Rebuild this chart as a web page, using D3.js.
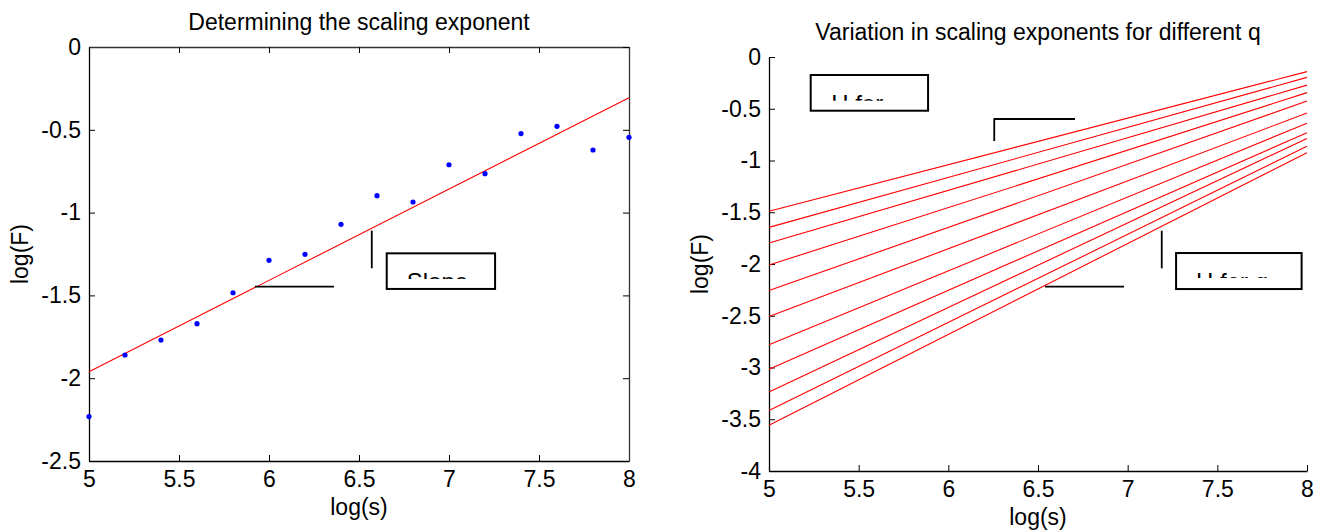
<!DOCTYPE html>
<html><head><meta charset="utf-8">
<script src="https://cdn.jsdelivr.net/npm/d3@7"></script>
<style>
body{margin:0;background:#fff;}
text{font-family:"Liberation Sans",Arial,sans-serif;fill:#000;}
</style></head>
<body><svg id="c" width="1325" height="531"></svg>
<script>
// ---- data ----
const logS = [5.0,5.2,5.4,5.6,5.8,6.0,6.2,6.4,6.6,6.8,7.0,7.2,7.4,7.6,7.8,8.0];
const logF = [-2.232,-1.86,-1.77,-1.671,-1.484,-1.288,-1.252,-1.071,-0.898,-0.936,-0.711,-0.765,-0.523,-0.479,-0.622,-0.545];
const fitX = [5, 8];
const fitY = [-1.961, -0.306];
const qStart = [-1.49,-1.646,-1.797,-2.01,-2.256,-2.508,-2.78,-3.016,-3.236,-3.416,-3.557];
const qEnd   = [-0.141,-0.197,-0.272,-0.344,-0.426,-0.541,-0.639,-0.731,-0.787,-0.862,-0.925];
const xTicks = [5,5.5,6,6.5,7,7.5,8];
const yTicksL = [0,-0.5,-1,-1.5,-2,-2.5];
const yTicksR = [0,-0.5,-1,-1.5,-2,-2.5,-3,-3.5,-4];
const titleL = "Determining the scaling exponent";
const titleR = "Variation in scaling exponents for different q";

const svg = d3.select("#c");
const FS = 23;
const fmt = d => String(d);

function panel(o){
  const g = svg.append("g");
  const x = d3.scaleLinear().domain([5,8]).range([o.x0,o.x1]);
  const y = d3.scaleLinear().domain(o.yd).range([o.y1,o.y0]);
  const tl = 6;
  const xa = g.append("g").attr("transform",`translate(0,${o.y1})`)
    .call(d3.axisBottom(x).tickValues(xTicks).tickSizeInner(-tl).tickSizeOuter(0).tickPadding(10).tickFormat(fmt));
  const ya = g.append("g").attr("transform",`translate(${o.x0},0)`)
    .call(d3.axisLeft(y).tickValues(o.yt).tickSizeInner(-tl).tickSizeOuter(0).tickPadding(8).tickFormat(fmt));
  [xa,ya].forEach(a=>{a.selectAll("path").attr("stroke","#000").attr("stroke-width",1.3);
    a.selectAll("line").attr("stroke","#000");
    a.selectAll("text").attr("font-size",FS).style("font-family","'Liberation Sans',Arial,sans-serif").attr("fill","#000");});
  if(o.box){
    const ta = g.append("g").attr("transform",`translate(0,${o.y0})`)
      .call(d3.axisTop(x).tickValues(xTicks).tickSizeInner(-tl).tickSizeOuter(0).tickFormat(""));
    const ra = g.append("g").attr("transform",`translate(${o.x1},0)`)
      .call(d3.axisRight(y).tickValues(o.yt).tickSizeInner(-tl).tickSizeOuter(0).tickFormat(""));
    [ta,ra].forEach(a=>{a.selectAll("path").attr("stroke","#333").attr("stroke-width",1.3);a.selectAll("line").attr("stroke","#000");});
  }
  g.append("text").attr("x",(o.x0+o.x1)/2).attr("y",o.y0-17.5).attr("text-anchor","middle").attr("font-size",FS).text(o.title);
  g.append("text").attr("x",(o.x0+o.x1)/2).attr("y",o.y1+54).attr("text-anchor","middle").attr("font-size",FS).text("log(s)");
  g.append("text").attr("transform",`translate(${o.x0-61},${(o.y0+o.y1)/2}) rotate(-90)`).attr("text-anchor","middle").attr("font-size",FS).text("log(F)");
  return {g,x,y};
}

function annot(p, a){
  const {g,x,y} = p;
  a.lines.forEach(l=>{
    g.append("line").attr("x1",x(l[0])).attr("y1",y(l[1])).attr("x2",x(l[2])).attr("y2",y(l[3]))
      .attr("stroke","#000").attr("stroke-width",1.8);
  });
  a.boxes.forEach((b,i)=>{
    const bx = x(b.x0), by = y(b.y0), bw = x(b.x1)-x(b.x0), bh = y(b.y1)-y(b.y0);
    const id = "clip"+b.id;
    g.append("clipPath").attr("id",id).append("rect").attr("x",bx).attr("y",by).attr("width",bw).attr("height",b.clipH);
    g.append("rect").attr("x",bx).attr("y",by).attr("width",bw).attr("height",bh).attr("fill","#fff").attr("stroke","#000").attr("stroke-width",2);
    g.append("text").attr("clip-path",`url(#${id})`).attr("x",bx+b.tx).attr("y",by+b.ty)
      .attr("font-size",24).text(b.text);
  });
}

// left panel
const L = panel({x0:89,x1:629,y0:47,y1:461,yd:[-2.5,0],yt:yTicksL,box:true,title:titleL});
L.g.append("line").attr("x1",L.x(fitX[0])).attr("y1",L.y(fitY[0])).attr("x2",L.x(fitX[1])).attr("y2",L.y(fitY[1]))
  .attr("stroke","#ff0000").attr("stroke-width",1.1);
L.g.selectAll("circle.pt").data(logS).enter().append("circle").attr("class","pt")
  .attr("cx",d=>L.x(d)).attr("cy",(d,i)=>L.y(logF[i])).attr("r",2.6).attr("fill","#0000ff");
annot(L,{lines:[[5.922,-1.447,6.361,-1.447],[6.571,-1.109,6.571,-1.336]],
  boxes:[{id:"a",x0:6.654,y0:-1.246,x1:7.256,y1:-1.461,text:"Slope",tx:20,ty:36.7,clipH:25.7}]});

// right panel
const R = panel({x0:769,x1:1307,y0:57,y1:471,yd:[-4,0],yt:yTicksR,box:false,title:titleR});
R.g.selectAll("line.q").data(qStart).enter().append("line").attr("class","q")
  .attr("x1",R.x(5)).attr("y1",d=>R.y(d)).attr("x2",R.x(8)).attr("y2",(d,i)=>R.y(qEnd[i]))
  .attr("stroke","#ff0000").attr("stroke-width",1.1);
annot(R,{lines:[[6.256,-0.599,6.706,-0.599],[6.256,-0.592,6.256,-0.812],[7.19,-1.678,7.19,-2.042],[6.539,-2.219,6.98,-2.219]],
  boxes:[{id:"b",x0:5.2325,y0:-0.174,x1:5.887,y1:-0.519,text:"H for",tx:20.5,ty:37.2,clipH:25.7},
         {id:"c",x0:7.27,y0:-1.894,x1:7.97,y1:-2.242,text:"H for q",tx:20,ty:36.9,clipH:25}]});
</script></body></html>
